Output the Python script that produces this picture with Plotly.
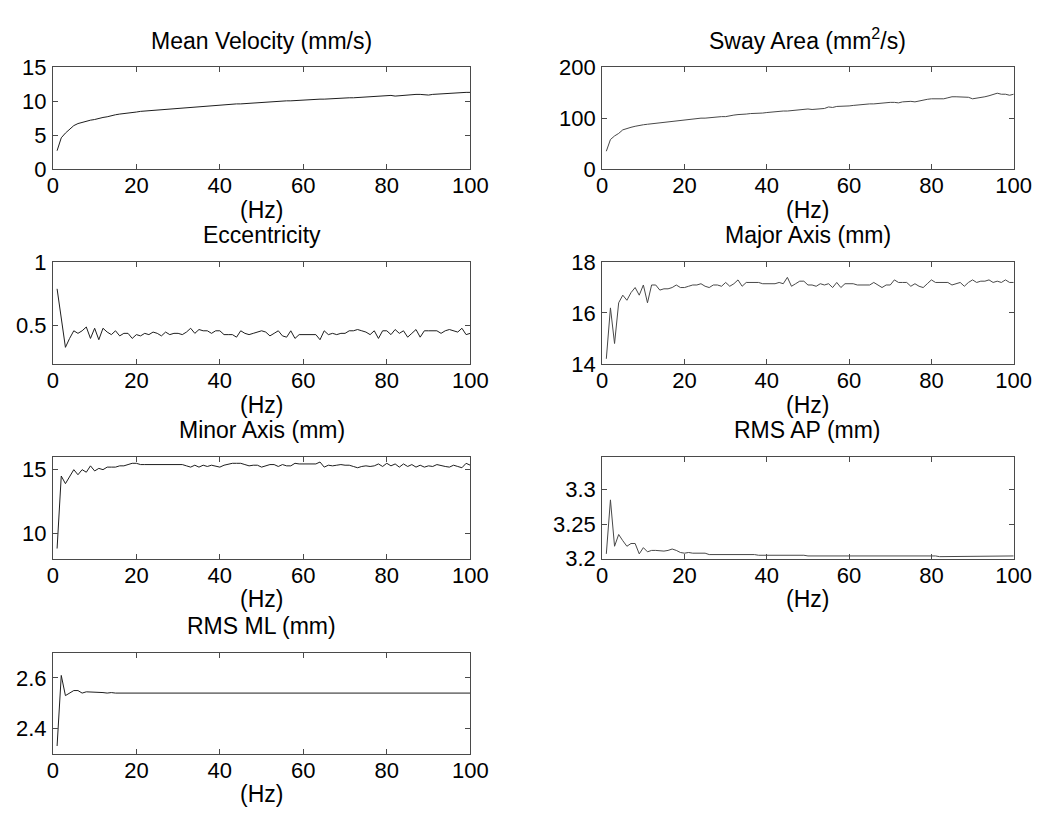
import plotly.graph_objects as go

hz = list(range(1, 101))

mean_velocity = [
    2.7, 4.6, 5.3, 5.9, 6.4, 6.7, 6.9, 7.1, 7.2, 7.3,
    7.5, 7.6, 7.7, 7.9, 8.0, 8.1, 8.15, 8.2, 8.3, 8.4,
    8.5, 8.55, 8.6, 8.7, 8.75, 8.8, 8.85, 8.9, 8.95, 9.0,
    9.05, 9.1, 9.15, 9.2, 9.25, 9.3, 9.3, 9.35, 9.4, 9.45,
    9.45, 9.5, 9.55, 9.6, 9.6, 9.65, 9.7, 9.75, 9.8, 9.8,
    9.85, 9.9, 9.95, 9.95, 10.0, 10.05, 10.05, 10.1, 10.15, 10.15,
    10.2, 10.25, 10.25, 10.3, 10.3, 10.35, 10.35, 10.4, 10.4, 10.45,
    10.5, 10.5, 10.55, 10.6, 10.6, 10.65, 10.7, 10.75, 10.8, 10.85,
    10.85, 10.75, 10.8, 10.95, 11.0, 11.0, 11.0, 11.0, 10.95, 10.9,
    11.0, 11.05, 11.1, 11.15, 11.2, 11.25, 11.3, 11.3, 11.3, 11.3,
]

sway_area = [
    35, 58, 65, 70, 77, 80, 82, 84, 86, 87,
    88, 89, 90, 91, 91, 92, 93, 94, 95, 96,
    97, 98, 99, 100, 100, 101, 102, 102, 103, 103,
    105, 106, 107, 107, 108, 109, 109, 110, 110, 111,
    112, 112, 113, 114, 114, 115, 116, 117, 117, 118,
    117, 118, 119, 119, 122, 121, 123, 123, 124, 124,
    125, 126, 127, 127, 128, 128, 129, 130, 130, 131,
    131, 130, 132, 133, 133, 132, 134, 135, 137, 138,
    138, 137, 138, 140, 142, 142, 142, 142, 141, 138,
    139, 140, 142, 144, 146, 149, 147, 147, 145, 147,
]

eccentricity = [
    0.79, 0.55, 0.33, 0.40, 0.46, 0.44, 0.46, 0.49, 0.40, 0.48,
    0.39, 0.48, 0.45, 0.43, 0.46, 0.42, 0.44, 0.44, 0.40, 0.43,
    0.42, 0.44, 0.43, 0.45, 0.44, 0.42, 0.45, 0.43, 0.44, 0.44,
    0.43, 0.45, 0.48, 0.44, 0.47, 0.46, 0.46, 0.44, 0.46, 0.46,
    0.43, 0.43, 0.43, 0.41, 0.46, 0.44, 0.43, 0.44, 0.45, 0.46,
    0.45, 0.42, 0.44, 0.46, 0.42, 0.41, 0.46, 0.40, 0.43, 0.43,
    0.43, 0.43, 0.43, 0.39, 0.46, 0.43, 0.44, 0.43, 0.44, 0.44,
    0.46, 0.46, 0.47, 0.46, 0.45, 0.43, 0.46, 0.40, 0.46, 0.46,
    0.43, 0.47, 0.44, 0.46, 0.41, 0.44, 0.47, 0.41, 0.46, 0.46,
    0.46, 0.46, 0.44, 0.46, 0.47, 0.46, 0.45, 0.48, 0.43, 0.44,
]

major_axis = [
    14.2, 16.2, 14.8, 16.4, 16.7, 16.5, 16.8, 17.0, 16.7, 17.1,
    16.4, 17.1, 17.1, 16.9, 16.95, 16.95, 17.0, 17.1, 17.0, 17.0,
    17.05, 17.1, 17.1, 17.15, 17.05, 17.0, 17.1, 17.1, 17.05, 17.2,
    17.05, 17.15, 17.3, 17.05, 17.2, 17.2, 17.2, 17.2, 17.15, 17.15,
    17.15, 17.15, 17.2, 17.15, 17.4, 17.05, 17.15, 17.25, 17.25, 17.1,
    17.1, 17.05, 17.15, 17.1, 17.15, 17.0, 17.2, 17.0, 17.15, 17.15,
    17.15, 17.1, 17.1, 17.1, 17.1, 17.2, 17.1, 17.0, 17.1, 17.1,
    17.3, 17.2, 17.2, 17.2, 17.05, 17.15, 17.05, 17.0, 17.15, 17.3,
    17.2, 17.2, 17.2, 17.2, 17.1, 17.15, 17.2, 17.05, 17.2, 17.3,
    17.2, 17.25, 17.25, 17.3, 17.2, 17.25, 17.2, 17.3, 17.2, 17.2,
]

minor_axis = [
    8.8, 14.5, 13.9, 14.5, 15.0, 14.6, 15.0, 14.8, 15.3, 14.9,
    15.1, 15.0, 15.2, 15.2, 15.2, 15.3, 15.3, 15.4, 15.5, 15.5,
    15.4, 15.4, 15.4, 15.45, 15.4, 15.45, 15.4, 15.45, 15.45, 15.45,
    15.4, 15.3, 15.2, 15.35, 15.2, 15.35, 15.25, 15.35, 15.3, 15.2,
    15.35, 15.45, 15.5, 15.5, 15.5, 15.4, 15.3, 15.35, 15.35, 15.2,
    15.3, 15.4, 15.4, 15.25, 15.4, 15.3, 15.3, 15.5, 15.45, 15.45,
    15.45, 15.45, 15.45, 15.6, 15.2, 15.35, 15.3, 15.35, 15.4, 15.35,
    15.35, 15.25, 15.15, 15.25, 15.3, 15.25, 15.3, 15.45, 15.25, 15.5,
    15.3, 15.45, 15.2, 15.45, 15.25, 15.4, 15.2, 15.35, 15.2, 15.3,
    15.25, 15.4, 15.3, 15.25, 15.2, 15.35, 15.25, 15.15, 15.5, 15.35,
]

rms_ap = [
    3.207, 3.285, 3.218, 3.235, 3.226, 3.218, 3.222, 3.222, 3.207, 3.216,
    3.210, 3.212, 3.212, 3.211, 3.211, 3.212, 3.214, 3.212, 3.209, 3.208,
    3.209, 3.208, 3.208, 3.209, 3.208, 3.206, 3.206, 3.207, 3.207, 3.207,
    3.206, 3.207, 3.206, 3.206, 3.206, 3.206, 3.206, 3.205, 3.205, 3.206,
    3.206, 3.206, 3.205, 3.205, 3.205, 3.206, 3.205, 3.205, 3.205, 3.204,
    3.204, 3.205, 3.205, 3.205, 3.204, 3.205, 3.205, 3.205, 3.205, 3.204,
    3.205, 3.205, 3.204, 3.204, 3.204, 3.204, 3.204, 3.204, 3.204, 3.204,
    3.204, 3.204, 3.204, 3.204, 3.204, 3.204, 3.204, 3.204, 3.204, 3.204,
    3.204, 3.203, 3.203, 3.204, 3.204, 3.204, 3.204, 3.204, 3.204, 3.204,
    3.204, 3.204, 3.204, 3.204, 3.204, 3.204, 3.203, 3.203, 3.204, 3.204,
]

rms_ml = [
    2.33, 2.61, 2.53, 2.54, 2.55, 2.55, 2.54, 2.545, 2.545, 2.545,
    2.542, 2.542, 2.54, 2.542, 2.54, 2.54, 2.54, 2.54, 2.54, 2.54,
    2.54, 2.54, 2.54, 2.54, 2.54, 2.54, 2.54, 2.54, 2.54, 2.54,
    2.54, 2.54, 2.54, 2.54, 2.54, 2.54, 2.54, 2.54, 2.54, 2.54,
    2.54, 2.54, 2.54, 2.54, 2.54, 2.54, 2.54, 2.54, 2.54, 2.54,
    2.54, 2.54, 2.54, 2.54, 2.54, 2.54, 2.54, 2.54, 2.54, 2.54,
    2.54, 2.54, 2.54, 2.54, 2.54, 2.54, 2.54, 2.54, 2.54, 2.54,
    2.54, 2.54, 2.54, 2.54, 2.54, 2.54, 2.54, 2.54, 2.54, 2.54,
    2.54, 2.54, 2.54, 2.54, 2.54, 2.54, 2.54, 2.54, 2.54, 2.54,
    2.54, 2.54, 2.54, 2.54, 2.54, 2.54, 2.54, 2.54, 2.54, 2.54,
]

titles = [
    "Mean Velocity (mm/s)", "Sway Area (mm<sup>2</sup>/s)",
    "Eccentricity", "Major Axis (mm)",
    "Minor Axis (mm)", "RMS AP (mm)",
    "RMS ML (mm)",
]
series = [mean_velocity, sway_area, eccentricity, major_axis, minor_axis, rms_ap, rms_ml]
y_ranges = [[0, 15], [0, 200], [0.2, 1], [14, 18], [8, 16], [3.2, 3.347], [2.3, 2.7]]
y_ticks = [[0, 5, 10, 15], [0, 100, 200], [0.5, 1], [14, 16, 18], [10, 15],
           [3.2, 3.25, 3.3], [2.4, 2.6]]
y_ticktext = [["0", "5", "10", "15"], ["0", "100", "200"], ["0.5", "1"],
              ["14", "16", "18"], ["10", "15"], ["3.2", "3.25", "3.3"], ["2.4", "2.6"]]
x_ticks = [0, 20, 40, 60, 80, 100]
x_label = "(Hz)"

W, H = 1062, 816
col_px = [(48, 475), (610, 1031)]
row_px = [(57, 162), (258, 363), (459, 564), (661, 765)]
FONT = "Liberation Sans, Arial, sans-serif"
TICK_SIZE = 22
TITLE_SIZE = 23

fig = go.Figure()
layout = dict(
    width=W, height=H, margin=dict(l=0, r=0, t=0, b=0),
    paper_bgcolor="white", plot_bgcolor="white", showlegend=False,
    font=dict(family=FONT, color="black"),
)
annotations = []
for i, (t, ys) in enumerate(zip(titles, series)):
    r, c = divmod(i, 2)
    x0, x1 = col_px[c]
    top, bot = row_px[r]
    n = i + 1
    xa = "x" if n == 1 else f"x{n}"
    ya = "y" if n == 1 else f"y{n}"
    line_col = "#1e1e1e" if c == 0 else "#484848"
    fig.add_trace(go.Scatter(x=hz, y=ys, mode="lines", xaxis=xa, yaxis=ya,
                             line=dict(color=line_col, width=1), hoverinfo="skip"))
    axis_common = dict(showline=True, linecolor="#4a4a4a", linewidth=1, mirror="ticks",
                       ticks="inside", ticklen=5, tickcolor="#4a4a4a", showgrid=False,
                       zeroline=False, tickfont=dict(size=TICK_SIZE, family=FONT, color="black"))
    layout["xaxis" if n == 1 else f"xaxis{n}"] = dict(
        domain=[x0 / W, x1 / W], anchor=ya, range=[0, 100], tickvals=x_ticks,
        ticklabelstandoff=-3, **axis_common)
    layout["yaxis" if n == 1 else f"yaxis{n}"] = dict(
        domain=[1 - bot / H, 1 - top / H], anchor=xa, range=y_ranges[i],
        tickvals=y_ticks[i], ticktext=y_ticktext[i], ticklabelstandoff=1, **axis_common)
    xc = (x0 + x1) / 2 / W
    annotations.append(dict(text=t, x=xc, y=1 - (top - 12) / H, xref="paper", yref="paper",
                            showarrow=False, xanchor="center", yanchor="bottom",
                            font=dict(size=TITLE_SIZE, family=FONT, color="black")))
    annotations.append(dict(text=x_label, x=xc, y=1 - (bot + 42) / H, xref="paper", yref="paper",
                            showarrow=False, xanchor="center", yanchor="middle",
                            font=dict(size=TITLE_SIZE, family=FONT, color="black")))
layout["annotations"] = annotations
fig.update_layout(**layout)
fig.write_html("out.html")
